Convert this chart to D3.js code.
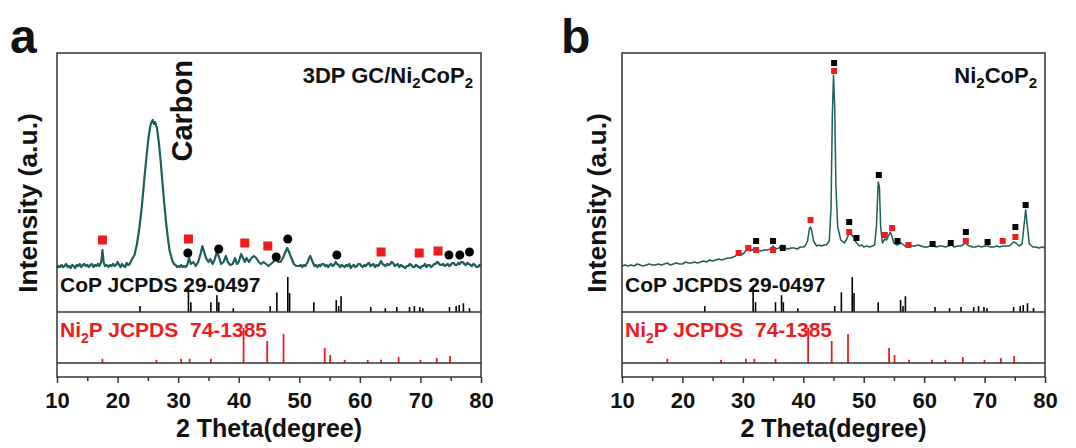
<!DOCTYPE html>
<html><head><meta charset="utf-8">
<script src="https://cdn.jsdelivr.net/npm/d3@7"></script>
<style>
html,body{margin:0;padding:0;background:#fff;}
svg{display:block;font-family:"Liberation Sans",Arial,sans-serif;font-weight:bold;}
</style></head>
<body><svg id="c" width="1076" height="448"></svg>
<script>
// ---------- DATA ----------
const xTicks = [10,20,30,40,50,60,70,80];
const xMinorTicks = [15,25,35,45,55,65,75];

// panel a: 3DP GC/Ni2CoP2 pattern  [2theta, intensity a.u.]
const traceA = [[10.0,109],[10.25,111],[10.5,110],[10.75,112],[11.0,110],[11.25,111],[11.5,113],[11.75,110],[12.0,111],[12.25,109],[12.5,112],[12.75,111],[13.0,109],[13.25,112],[13.5,111],[13.75,113],[14.0,110],[14.25,112],[14.5,113],[14.75,111],[15.0,112],[15.25,110],[15.5,112],[15.75,113],[16.0,110],[16.25,112],[16.5,111],[16.75,113],[17.0,111],[17.3,115],[17.5,127],[17.7,115],[17.9,111],[18.2,112],[18.5,110],[18.75,112],[19.0,111],[19.25,113],[19.5,111],[19.75,112],[20.0,115],[20.25,112],[20.5,110],[20.75,113],[21.0,111],[21.25,110],[21.5,114],[21.75,112],[22.0,113],[22.4,118],[22.8,122],[23.2,133],[23.6,149],[24.0,170],[24.4,197],[24.8,222],[25.1,239],[25.4,251],[25.6,255],[25.8,257],[26.0,253],[26.2,255],[26.5,249],[26.8,235],[27.1,217],[27.4,195],[27.7,174],[28.0,155],[28.3,139],[28.6,126],[29.0,117],[29.3,113],[29.6,112],[29.8,110],[30.0,111],[30.25,110],[30.5,112],[30.75,110],[31.0,111],[31.25,110],[31.5,112],[31.8,119],[32.1,113],[32.5,115],[32.9,111],[33.3,115],[33.7,123],[34.0,131],[34.3,125],[34.6,119],[35.0,115],[35.3,118],[35.7,113],[36.0,117],[36.4,125],[36.8,119],[37.1,113],[37.5,115],[37.9,121],[38.2,115],[38.6,112],[39.0,113],[39.4,119],[39.7,113],[40.0,115],[40.4,123],[40.7,119],[41.0,115],[41.3,119],[41.7,115],[42.1,119],[42.5,121],[42.9,119],[43.3,115],[43.7,113],[44.1,115],[44.5,113],[44.9,111],[45.3,113],[45.7,115],[46.1,119],[46.5,115],[46.9,115],[47.3,119],[47.7,125],[48.0,129],[48.3,125],[48.7,119],[49.1,113],[49.5,111],[50.0,111],[50.25,112],[50.5,110],[50.75,112],[51.0,111],[51.2,113],[51.4,115],[51.6,119],[51.8,121],[52.0,118],[52.2,115],[52.5,111],[52.75,112],[53.0,110],[53.25,112],[53.5,111],[53.75,113],[54.0,113],[54.25,111],[54.5,112],[54.75,110],[55.0,112],[55.25,113],[55.5,111],[55.75,112],[56.0,115],[56.25,113],[56.5,112],[56.75,110],[57.0,112],[57.25,111],[57.5,110],[57.75,112],[58.0,111],[58.25,113],[58.5,109],[58.75,111],[59.0,112],[59.25,110],[59.5,111],[59.75,113],[60.0,113],[60.25,111],[60.5,110],[60.75,112],[61.0,111],[61.25,113],[61.5,114],[61.75,111],[62.0,112],[62.25,113],[62.5,110],[62.75,112],[63.0,111],[63.25,113],[63.5,116],[63.75,113],[64.0,112],[64.25,111],[64.5,113],[64.75,112],[65.0,113],[65.25,115],[65.5,114],[65.75,111],[66.0,112],[66.25,113],[66.5,110],[66.75,112],[67.0,111],[67.25,110],[67.5,109],[67.75,111],[68.0,111],[68.25,113],[68.5,112],[68.75,110],[69.0,110],[69.25,112],[69.5,111],[69.75,110],[70.0,109],[70.25,111],[70.5,111],[70.75,113],[71.0,110],[71.25,112],[71.5,112],[71.75,110],[72.0,111],[72.25,113],[72.5,113],[72.75,115],[73.0,114],[73.25,112],[73.5,112],[73.75,113],[74.0,111],[74.25,112],[74.5,113],[74.75,111],[75.0,112],[75.25,114],[75.5,114],[75.75,112],[76.0,112],[76.25,114],[76.5,113],[76.75,115],[77.0,115],[77.25,113],[77.5,112],[77.75,114],[78.0,113],[78.25,112],[78.5,111],[78.75,113],[79.0,112],[79.25,110],[79.5,110],[79.75,112],[80.0,111]];

// panel b: Ni2CoP2 pattern
const traceB = [[10.0,111],[10.5,112],[11.0,111],[11.5,112],[12.0,111],[12.5,113],[13.0,112],[13.5,111],[14.0,112],[14.5,113],[15.0,112],[15.5,112],[16.0,113],[16.5,112],[17.0,113],[17.5,114],[18.0,112],[18.5,113],[19.0,114],[19.5,113],[20.0,113],[20.5,115],[21.0,114],[21.5,114],[22.0,115],[22.5,114],[23.0,115],[23.5,116],[24.0,115],[24.5,117],[25.0,116],[25.5,117],[26.0,118],[26.5,117],[27.0,118],[27.5,119],[28.0,119],[28.4,120],[28.8,121],[29.3,124],[29.7,122],[30.2,124],[30.8,129],[31.2,126],[31.8,128],[32.3,126],[33.0,126],[33.5,127],[34.0,127],[34.6,128],[35.0,131],[35.4,128],[36.0,129],[36.5,132],[36.9,129],[37.5,128],[38.0,129],[38.5,129],[39.0,128],[39.5,130],[40.0,130],[40.3,131],[40.7,136],[41.0,148],[41.2,150],[41.4,146],[41.7,136],[42.2,131],[42.6,132],[43.0,131],[43.4,132],[43.8,132],[44.3,136],[44.6,170],[44.8,260],[45.0,302],[45.2,270],[45.4,190],[45.7,150],[46.2,137],[46.8,134],[47.2,138],[47.6,145],[47.9,143],[48.3,140],[48.7,135],[49.3,131],[49.7,132],[50.0,130],[50.5,131],[51.0,130],[51.4,131],[51.8,132],[52.1,150],[52.4,195],[52.6,190],[52.8,150],[53.1,134],[53.5,138],[53.8,137],[54.1,141],[54.4,145],[54.7,140],[55.0,134],[55.5,132],[56.2,134],[56.8,131],[57.2,132],[57.5,133],[58.0,131],[58.5,131],[59.0,132],[59.5,131],[60.0,130],[60.5,130],[61.0,131],[61.4,132],[62.0,130],[62.5,131],[63.0,131],[63.5,130],[64.0,131],[64.5,132],[65.0,130],[65.5,131],[66.0,131],[66.4,132],[66.8,134],[67.2,132],[67.5,131],[68.0,130],[68.5,130],[69.0,131],[69.5,130],[70.0,131],[70.5,131],[71.0,130],[71.5,130],[72.0,131],[72.5,130],[73.0,131],[73.5,131],[74.0,131],[74.3,132],[74.8,135],[75.2,134],[75.7,131],[76.2,133],[76.5,150],[76.8,167],[77.1,150],[77.4,133],[78.0,130],[78.5,130],[79.0,129],[79.5,130],[80.0,129]];

// reference patterns [2theta, relative intensity]
const copRef = [[23.7,17],[31.7,75],[32.1,28],[35.4,28],[36.4,48],[36.7,28],[39.1,11],[45.2,17],[46.3,56],[48.1,100],[48.4,54],[52.4,28],[56.1,34],[56.5,17],[56.9,45],[61.8,14],[64.2,11],[66.1,14],[68.2,14],[69.0,17],[69.9,14],[70.4,11],[74.8,14],[75.9,17],[76.4,20],[77.1,25],[78.1,11]];
const ni2pRef = [[17.5,12],[26.4,9],[30.5,12],[31.9,12],[35.4,12],[40.8,100],[44.7,63],[47.4,83],[54.2,43],[55.1,23],[57.5,9],[61.3,9],[63.5,9],[66.4,17],[70.0,9],[72.7,14],[74.9,20]];

// phase markers [2theta, intensity a.u.]
const markA_ni2p = [[17.5,137],[31.7,138],[41.0,134],[44.8,131],[63.5,125],[69.8,124],[72.9,126]];
const markA_cop  = [[31.6,124],[36.7,128],[46.2,120],[48.1,138],[56.2,122],[74.7,122],[76.5,122],[78.1,125]];
const markB_ni2p = [[29.3,124],[30.9,129],[32.2,127],[35.0,127],[41.2,157],[45.1,306],[47.6,145],[53.5,142],[54.7,149],[57.4,132],[66.9,136],[73.0,136],[75.1,140]];
const markB_cop  = [[32.2,136],[35.0,136],[36.6,129],[45.1,314],[47.6,155],[48.8,139],[52.5,202],[55.6,136],[61.4,133],[64.4,134],[66.9,145],[70.5,135],[75.1,150],[76.8,172]];

const panelLetters = ["a","b"];
const copLabel = "CoP JCPDS 29-0497";
const xTitle = "2 Theta(degree)";
const yTitle = "Intensity (a.u.)";

// ---------- DRAW ----------
const svg = d3.select("#c");
const TOP=53, BOTTOM=377, COPBASE=312, NIBASE=363;
const teal = "#1d5f5b", red = "#ee1c1c";

const panels = [
  {letter:panelLetters[0], x0:57, x1:481, trace:traceA, ni:markA_ni2p, cop:markA_cop, circles:true, lw:2.2, msize:9, ylab:37, letterX:10},
  {letter:panelLetters[1], x0:622, x1:1045, trace:traceB, ni:markB_ni2p, cop:markB_cop, circles:false, lw:1.5, msize:6, ylab:606, letterX:561}
];

panels.forEach((p,i)=>{
  const g = svg.append("g");
  const x = d3.scaleLinear().domain([10,80]).range([p.x0,p.x1]);
  const y = d3.scaleLinear().domain([0,324]).range([BOTTOM,TOP]);
  const yCop = d3.scaleLinear().domain([0,100]).range([COPBASE,COPBASE-35]);
  const yNi = d3.scaleLinear().domain([0,100]).range([NIBASE,NIBASE-35]);

  // reference sticks
  g.append("g").selectAll("line").data(copRef).join("line")
    .attr("x1",d=>x(d[0])).attr("x2",d=>x(d[0]))
    .attr("y1",yCop(0)).attr("y2",d=>yCop(d[1]))
    .attr("stroke","#000").attr("stroke-width",1.6);
  g.append("g").selectAll("line").data(ni2pRef).join("line")
    .attr("x1",d=>x(d[0])).attr("x2",d=>x(d[0]))
    .attr("y1",yNi(0)).attr("y2",d=>yNi(d[1]))
    .attr("stroke",red).attr("stroke-width",1.8);

  // baselines
  [COPBASE,NIBASE].forEach(yy=>g.append("line").attr("x1",p.x0).attr("x2",p.x1).attr("y1",yy).attr("y2",yy).attr("stroke","#333").attr("stroke-width",1.5));

  // trace
  g.append("path").datum(p.trace)
    .attr("d",d3.line().x(d=>x(d[0])).y(d=>y(d[1])))
    .attr("fill","none").attr("stroke",teal).attr("stroke-width",p.lw).attr("stroke-linejoin","round");

  // markers
  const s = p.msize;
  g.append("g").selectAll("rect").data(p.ni).join("rect")
    .attr("x",d=>x(d[0])-s/2).attr("y",d=>y(d[1])-s/2).attr("width",s).attr("height",s).attr("fill",red);
  if(p.circles){
    g.append("g").selectAll("circle").data(p.cop).join("circle")
      .attr("cx",d=>x(d[0])).attr("cy",d=>y(d[1])).attr("r",s/2).attr("fill","#000");
  } else {
    g.append("g").selectAll("rect").data(p.cop).join("rect")
      .attr("x",d=>x(d[0])-s/2).attr("y",d=>y(d[1])-s/2).attr("width",s).attr("height",s).attr("fill","#000");
  }

  // frame
  g.append("rect").attr("x",p.x0).attr("y",TOP).attr("width",p.x1-p.x0).attr("height",BOTTOM-TOP)
    .attr("fill","none").attr("stroke","#333").attr("stroke-width",1.5);

  // x axis
  const ax = g.append("g").attr("transform",`translate(0,${BOTTOM})`)
    .call(d3.axisBottom(x).tickValues(xTicks).tickSize(6).tickPadding(9).tickFormat(d3.format("d")));
  ax.select(".domain").remove();
  ax.selectAll(".tick line").attr("stroke","#333").attr("stroke-width",1.5);
  ax.selectAll(".tick text").attr("font-size",22).attr("font-family","Liberation Sans, Arial, sans-serif").attr("font-weight","bold").attr("fill","#111");
  const axm = g.append("g").attr("transform",`translate(0,${BOTTOM})`)
    .call(d3.axisBottom(x).tickValues(xMinorTicks).tickSize(4).tickFormat(""));
  axm.select(".domain").remove();
  axm.selectAll(".tick line").attr("stroke","#333").attr("stroke-width",1.5);

  // titles
  g.append("text").attr("x",(p.x0+p.x1)/2).attr("y",437).attr("text-anchor","middle")
    .attr("font-size",25).attr("fill","#111").text(xTitle);
  g.append("text").attr("transform",`translate(${p.ylab},203) rotate(-90)`)
    .attr("text-anchor","middle").attr("font-size",26.5).attr("fill","#111").text(yTitle);
  g.append("text").attr("x",p.letterX).attr("y",53).attr("font-size",48).attr("fill","#111").text(p.letter);

  // reference labels
  g.append("text").attr("x",p.x0+3).attr("y",292).attr("font-size",21).attr("fill","#111").text(copLabel);
  const nl = g.append("text").attr("x",p.x0+3).attr("y",337).attr("font-size",21).attr("fill",red);
  nl.append("tspan").text("Ni");
  nl.append("tspan").attr("font-size",14).attr("dy",6).text("2");
  nl.append("tspan").attr("dy",-6).text("P JCPDS\u00a0\u00a074-1385");

  // sample label
  const sl = g.append("text").attr("x",p.x1-8).attr("y",83).attr("text-anchor","end").attr("font-size",22).attr("fill","#111");
  if(i===0) sl.append("tspan").text("3DP GC/Ni");
  else sl.append("tspan").text("Ni");
  sl.append("tspan").attr("font-size",15).attr("dy",5).text("2");
  sl.append("tspan").attr("dy",-5).text("CoP");
  sl.append("tspan").attr("font-size",15).attr("dy",5).text("2");

  if(i===0){
    g.append("text").attr("transform",`translate(${x(32.3)},60) rotate(-90)`)
      .attr("text-anchor","end").attr("font-size",29).attr("fill","#111").text("Carbon");
  }
});
</script></body></html>
